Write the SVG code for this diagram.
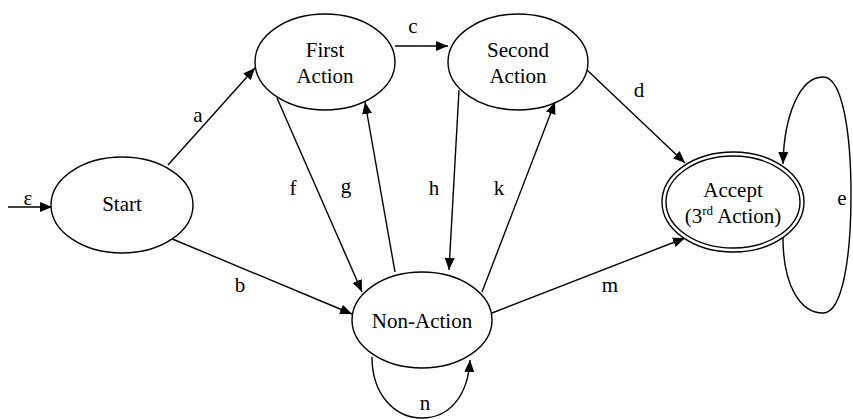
<svg xmlns="http://www.w3.org/2000/svg" width="853" height="419" viewBox="0 0 853 419">
<defs>
<marker id="arr" markerUnits="userSpaceOnUse" markerWidth="14" markerHeight="12" refX="12" refY="5" orient="auto">
<path d="M0,0 L12,5 L0,10 Z" fill="#000"/>
</marker>
<style>
.node ellipse{fill:#fff;stroke:#000;stroke-width:1.4}
.t{font-family:"Liberation Serif","Times New Roman",serif;font-size:21px;fill:#000;text-anchor:middle}
.lbl{font-family:"Liberation Serif","Times New Roman",serif;font-size:21px;fill:#000;text-anchor:middle}
.e{fill:none;stroke:#000;stroke-width:1.4;marker-end:url(#arr)}
</style>
</defs>
<rect width="853" height="419" fill="#fff"/>
<g id="connectors">
<line class="e" x1="8" y1="207" x2="52" y2="207"/>
<line class="e" x1="168" y1="165" x2="255" y2="68"/>
<line class="e" x1="170" y1="238" x2="352" y2="314"/>
<line class="e" x1="395" y1="46" x2="448" y2="46"/>
<line class="e" x1="587" y1="70" x2="685" y2="163"/>
<line class="e" x1="277" y1="98" x2="362" y2="292"/>
<line class="e" x1="395" y1="272" x2="365" y2="102"/>
<line class="e" x1="459" y1="90" x2="449" y2="270"/>
<line class="e" x1="482" y1="292" x2="555" y2="102"/>
<line class="e" x1="492" y1="313" x2="685" y2="238"/>
<path class="e" d="M372,357 C372,395 395,418 422,418 C450,418 468,395 470,360"/>
<path class="e" d="M783,238 C783,285 800,313 823,313 C843,313 851,255 851,195 C851,135 843,77 823,77 C800,77 784,115 783,164"/>
<text class="lbl" x="28" y="205">ε</text>
<text class="lbl" x="198" y="122">a</text>
<text class="lbl" x="240" y="292">b</text>
<text class="lbl" x="413" y="33">c</text>
<text class="lbl" x="639" y="97">d</text>
<text class="lbl" x="842" y="205">e</text>
<text class="lbl" x="293" y="195">f</text>
<text class="lbl" x="346" y="193">g</text>
<text class="lbl" x="434" y="195">h</text>
<text class="lbl" x="499" y="195">k</text>
<text class="lbl" x="610" y="292">m</text>
<text class="lbl" x="425" y="410">n</text>
</g>
<g id="start" class="node">
<ellipse cx="122" cy="205" rx="71" ry="48"/>
<text class="t" x="122" y="211">Start</text>
</g>
<g id="first" class="node">
<ellipse cx="325" cy="62" rx="70" ry="48"/>
<text class="t" x="325" y="57">First</text>
<text class="t" x="325" y="83">Action</text>
</g>
<g id="second" class="node">
<ellipse cx="518" cy="62" rx="70" ry="48"/>
<text class="t" x="518" y="57">Second</text>
<text class="t" x="518" y="83">Action</text>
</g>
<g id="nonaction" class="node">
<ellipse cx="422" cy="320" rx="70" ry="48"/>
<text class="t" x="422" y="328">Non-Action</text>
</g>
<g id="accept" class="node">
<ellipse cx="733" cy="202" rx="71" ry="50"/>
<ellipse cx="733" cy="202" rx="67" ry="46"/>
<text class="t" x="733" y="197">Accept</text>
<text class="t" x="733" y="223">(3<tspan font-size="13" dy="-8">rd</tspan><tspan dy="8"> Action)</tspan></text>
</g>
</svg>
